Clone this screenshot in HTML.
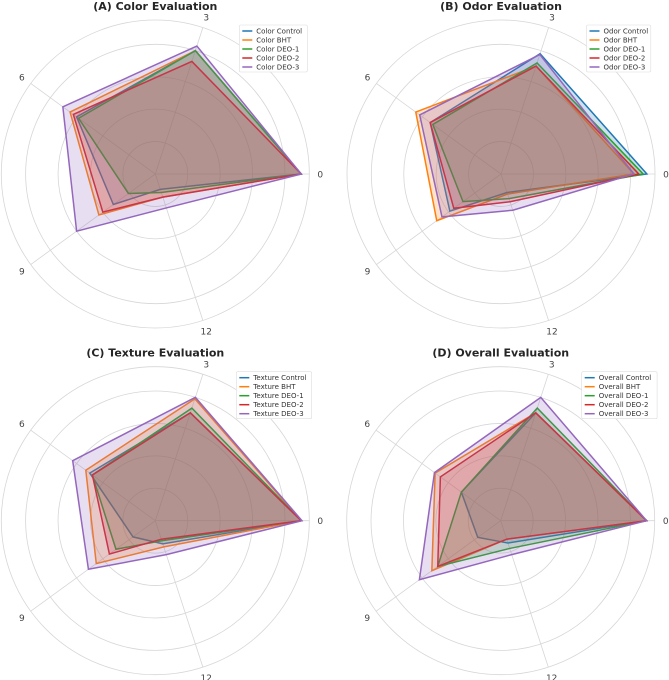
<!DOCTYPE html>
<html><head><meta charset="utf-8"><style>
body{margin:0;background:#fff;}
svg{display:block;font-family:"DejaVu Sans","Liberation Sans",sans-serif;}
</style></head><body>
<svg id="chart" width="669" height="680" viewBox="0 0 669 680" xmlns="http://www.w3.org/2000/svg"></svg>
<script>
const days = ["0","3","6","9","12"];
const seriesNames = ["Control","BHT","DEO-1","DEO-2","DEO-3"];
const colors = ["#1f77b4","#ff7f0e","#2ca02c","#d62728","#9467bd"];
const colorControl = [9.0,8.0,6.0,3.2,1.0];
const colorBHT     = [9.0,8.0,6.5,4.3,1.5];
const colorDEO1    = [9.0,8.0,5.85,2.05,1.2];
const colorDEO2    = [9.0,7.3,6.25,4.0,1.5];
const colorDEO3    = [9.0,8.3,7.05,6.0,2.2];
const odorControl  = [9.0,7.8,5.4,3.9,1.2];
const odorBHT      = [8.2,7.0,6.5,4.9,1.3];
const odorDEO1     = [8.77,7.2,5.2,2.9,1.6];
const odorDEO2     = [8.5,7.0,5.4,3.6,1.8];
const odorDEO3     = [8.2,7.75,6.2,4.5,2.35];
const textureControl = [9.0,7.0,5.0,1.7,1.5];
const textureBHT     = [9.0,7.9,5.3,4.5,1.7];
const textureDEO1    = [9.0,7.3,4.8,3.0,1.3];
const textureDEO2    = [9.0,7.0,4.8,3.5,1.2];
const textureDEO3    = [9.05,8.0,6.3,5.1,2.2];
const overallControl = [9.0,7.0,3.0,1.75,1.45];
const overallBHT     = [9.0,7.0,5.0,5.25,1.2];
const overallDEO1    = [9.0,7.3,3.0,4.8,1.8];
const overallDEO2    = [9.0,7.0,4.6,4.8,1.2];
const overallDEO3    = [9.0,8.0,5.05,6.2,2.2];
const gridTicks = [2,4,6,8];
const rMax = 9.5;

const panels = [
 {title:"(A) Color Evaluation", prefix:"Color", cx:155.3, cy:174, data:[colorControl,colorBHT,colorDEO1,colorDEO2,colorDEO3], key:"color"},
 {title:"(B) Odor Evaluation", prefix:"Odor", cx:501, cy:174, data:[odorControl,odorBHT,odorDEO1,odorDEO2,odorDEO3], key:"odor"},
 {title:"(C) Texture Evaluation", prefix:"Texture", cx:155.3, cy:520.7, data:[textureControl,textureBHT,textureDEO1,textureDEO2,textureDEO3], key:"texture"},
 {title:"(D) Overall Evaluation", prefix:"Overall", cx:500.7, cy:520.7, data:[overallControl,overallBHT,overallDEO1,overallDEO2,overallDEO3], key:"overall"}
];
const R = 154;
const NS = "http://www.w3.org/2000/svg";
const svg = document.getElementById("chart");
function mk(tag, attrs, parent){const e=document.createElementNS(NS,tag);for(const k in attrs)e.setAttribute(k,attrs[k]);(parent||svg).appendChild(e);return e;}
function rScale(v){return v/rMax*R;}
function angle(i){return i*2*Math.PI/days.length;}

panels.forEach(p=>{
  const g = mk("g",{});
  
  
  gridTicks.forEach(t=>{
    const c = mk("circle",{cx:p.cx,cy:p.cy,r:rScale(t),fill:"none",stroke:"#d6d6d6","stroke-width":0.8},g);
    
    
  });
  const outer = mk("circle",{cx:p.cx,cy:p.cy,r:R,fill:"none",stroke:"#d6d6d6","stroke-width":0.8},g);
  
  
  days.forEach((d,i)=>{
    const a=angle(i);
    const sp = mk("line",{x1:p.cx,y1:p.cy,x2:p.cx+R*Math.cos(a),y2:p.cy-R*Math.sin(a),stroke:"#d6d6d6","stroke-width":0.8},g);
    
    
    const lr = 165;
    const t = mk("text",{x:p.cx+lr*Math.cos(a),y:p.cy-lr*Math.sin(a)+3.5,"text-anchor":"middle","font-size":9,fill:"#444"},g);
    t.textContent=d;
    
    
  });
  p.data.forEach((vals,si)=>{
    const pts = vals.map((v,i)=>{const a=angle(i);return (p.cx+rScale(v)*Math.cos(a)).toFixed(2)+","+(p.cy-rScale(v)*Math.sin(a)).toFixed(2);}).join(" ");
    const poly = mk("polygon",{points:pts,fill:colors[si],"fill-opacity":0.22,stroke:colors[si],"stroke-width":1.5,"stroke-linejoin":"miter"},g);
    
    
  });
  const title = mk("text",{x:p.cx,y:p.cy-164,"text-anchor":"middle","font-size":11,"font-weight":"bold",fill:"#262626"},g);
  title.textContent=p.title;
  
  
  const lx = p.cx+84 - (p.prefix.length-5)*1.5, ly = p.cy-149;
  const lw = 68 + (p.prefix.length-5)*3.7;
  const lg = mk("g",{},g);
  
  
  mk("rect",{x:lx,y:ly,width:lw,height:47,fill:"#fff","fill-opacity":0.85,stroke:"#ddd","stroke-width":0.6,rx:1.5},lg);
  seriesNames.forEach((n,si)=>{
    const yy = ly+6+si*9;
    const ln = mk("line",{x1:lx+3,y1:yy,x2:lx+13,y2:yy,stroke:colors[si],"stroke-width":1.5},lg);
    
    
    const tt = mk("text",{x:lx+17,y:yy+2.5,"font-size":7,fill:"#333"},lg);
    tt.textContent=p.prefix+" "+n;
    
    
  });
});
</script>
</body></html>
